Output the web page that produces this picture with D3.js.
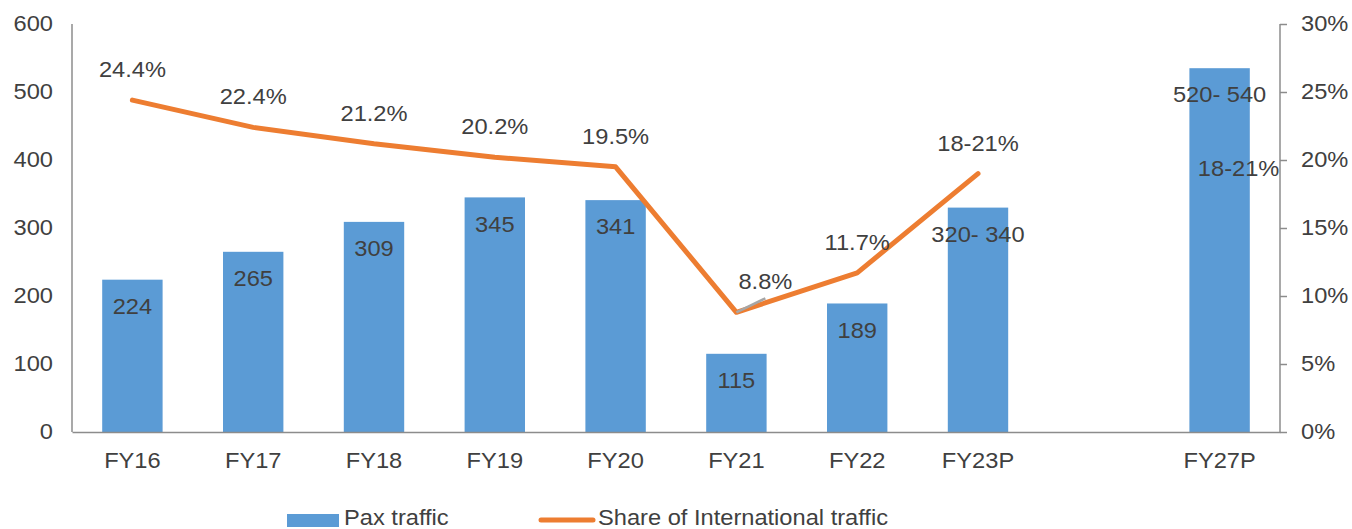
<!DOCTYPE html>
<html><head><meta charset="utf-8">
<script src="https://cdn.jsdelivr.net/npm/d3@7"></script>
<style>
body{margin:0;background:#fff;}
text{font-family:"Liberation Sans",Arial,sans-serif;fill:#404040;}
</style></head>
<body>
<svg id="chart" width="1352" height="529"></svg>
<script>
const categories = ["FY16","FY17","FY18","FY19","FY20","FY21","FY22","FY23P","","FY27P"];
const paxValues = [224,265,309,345,341,115,189,330,null,535];
const paxLabels = ["224","265","309","345","341","115","189","320- 340","","520- 540"];
const shareValues = [24.4,22.4,21.2,20.2,19.5,8.8,11.7,19.0,null,19.0];
const shareLabels = ["24.4%","22.4%","21.2%","20.2%","19.5%","8.8%","11.7%","18-21%","","18-21%"];
const lineCount = 8; // line drawn FY16..FY23P
const leftTicks = [0,100,200,300,400,500,600];
const rightTicks = [0,5,10,15,20,25,30];
const legendLabels = ["Pax traffic","Share of International traffic"];

const W = 1352, H = 529;
const m = {left:72, right:72, top:24, bottom:97};
const svg = d3.select("#chart");
const fs = 21.5, sx = 1.1;

// horizontally stretch text glyphs (reference text is slightly wide)
function stretch(sel){
  sel.each(function(){
    const t = d3.select(this);
    const xx = +t.attr("x") || 0, yy = +t.attr("y") || 0;
    t.attr("transform", `translate(${xx},${yy}) scale(${sx},1)`).attr("x",0).attr("y",0);
  });
}

const x = d3.scaleBand().domain(d3.range(categories.length)).range([m.left, W-m.right]).paddingInner(0.5).paddingOuter(0.25);
const yL = d3.scaleLinear().domain([0,600]).range([H-m.bottom, m.top]);
const yR = d3.scaleLinear().domain([0,30]).range([H-m.bottom, m.top]);
const cx = i => x(i) + x.bandwidth()/2;

// bars
svg.append("g").selectAll("rect").data(paxValues.map((v,i)=>({v,i})).filter(d=>d.v!=null))
  .enter().append("rect")
  .attr("x", d=>x(d.i)).attr("width", x.bandwidth())
  .attr("y", d=>yL(d.v)).attr("height", d=>yL(0)-yL(d.v))
  .attr("fill","#5b9bd5");

// axes
const axisColor = "#8c8c8c";
const gL = svg.append("g").attr("transform",`translate(${m.left},0)`)
  .call(d3.axisLeft(yL).tickValues(leftTicks).tickSize(0).tickPadding(19));
const gR = svg.append("g").attr("transform",`translate(${W-m.right},0)`)
  .call(d3.axisRight(yR).tickValues(rightTicks).tickSize(7).tickPadding(14).tickFormat(d=>d+"%"));
const gB = svg.append("g").attr("transform",`translate(0,${H-m.bottom})`)
  .call(d3.axisBottom(x).tickSize(0).tickPadding(21).tickFormat(i=>categories[i]));
[gL,gR,gB].forEach(g=>{
  g.select(".domain").attr("stroke",axisColor).attr("stroke-width",1.5);
  g.selectAll(".tick line").attr("stroke",axisColor).attr("stroke-width",1.5);
  g.selectAll("text").attr("font-size",fs).attr("fill","#404040").style("font-family","Liberation Sans, Arial, sans-serif");
  stretch(g.selectAll(".tick text"));
});
gL.select(".domain").attr("d",`M0,${yL(600)}V${yL(0)}`);
gR.select(".domain").attr("d",`M0,${yR(30)}V${yR(0)}`);

// line
const lineData = shareValues.slice(0,lineCount).map((v,i)=>({v,i}));
svg.append("path").datum(lineData)
  .attr("d", d3.line().x(d=>cx(d.i)).y(d=>yR(d.v)))
  .attr("fill","none").attr("stroke","#ed7d31").attr("stroke-width",5)
  .attr("stroke-linecap","round").attr("stroke-linejoin","round");

// leader line for FY21 label (label moved right)
const fy21 = 5, fy21dx = 29;
svg.append("line")
  .attr("x1", cx(fy21)).attr("y1", yR(shareValues[fy21]))
  .attr("x2", cx(fy21)+fy21dx).attr("y2", yR(shareValues[fy21])-14)
  .attr("stroke","#a6a6a6").attr("stroke-width",2.5);

// bar labels
svg.append("g").selectAll("text").data(paxValues.map((v,i)=>({v,i,l:paxLabels[i]})).filter(d=>d.v!=null))
  .enter().append("text")
  .attr("x", d=>cx(d.i)).attr("y", d=>yL(d.v)+27)
  .attr("text-anchor","middle").attr("dominant-baseline","central")
  .attr("font-size",fs).text(d=>d.l).call(stretch);

// line labels
svg.append("g").selectAll("text").data(shareValues.map((v,i)=>({v,i,l:shareLabels[i]})).filter(d=>d.v!=null))
  .enter().append("text")
  .attr("x", d=> d.i === fy21 ? cx(d.i)+fy21dx : (d.i < lineCount ? cx(d.i) : cx(d.i)+19))
  .attr("y", d=> d.i < lineCount ? yR(d.v)-30 : yR(d.v)-5)
  .attr("text-anchor","middle").attr("dominant-baseline","central")
  .attr("font-size",fs).text(d=>d.l).call(stretch);

// legend
const lg = svg.append("g");
lg.append("rect").attr("x",287).attr("y",514).attr("width",52).attr("height",13).attr("fill","#5b9bd5");
lg.append("text").attr("x",344).attr("y",517.5).attr("dominant-baseline","central").attr("font-size",fs).text(legendLabels[0]).call(stretch);
lg.append("line").attr("x1",541).attr("x2",593).attr("y1",520).attr("y2",520)
  .attr("stroke","#ed7d31").attr("stroke-width",5).attr("stroke-linecap","round");
lg.append("text").attr("x",598).attr("y",517.5).attr("dominant-baseline","central").attr("font-size",fs).text(legendLabels[1]).call(stretch);
</script>
</body></html>
